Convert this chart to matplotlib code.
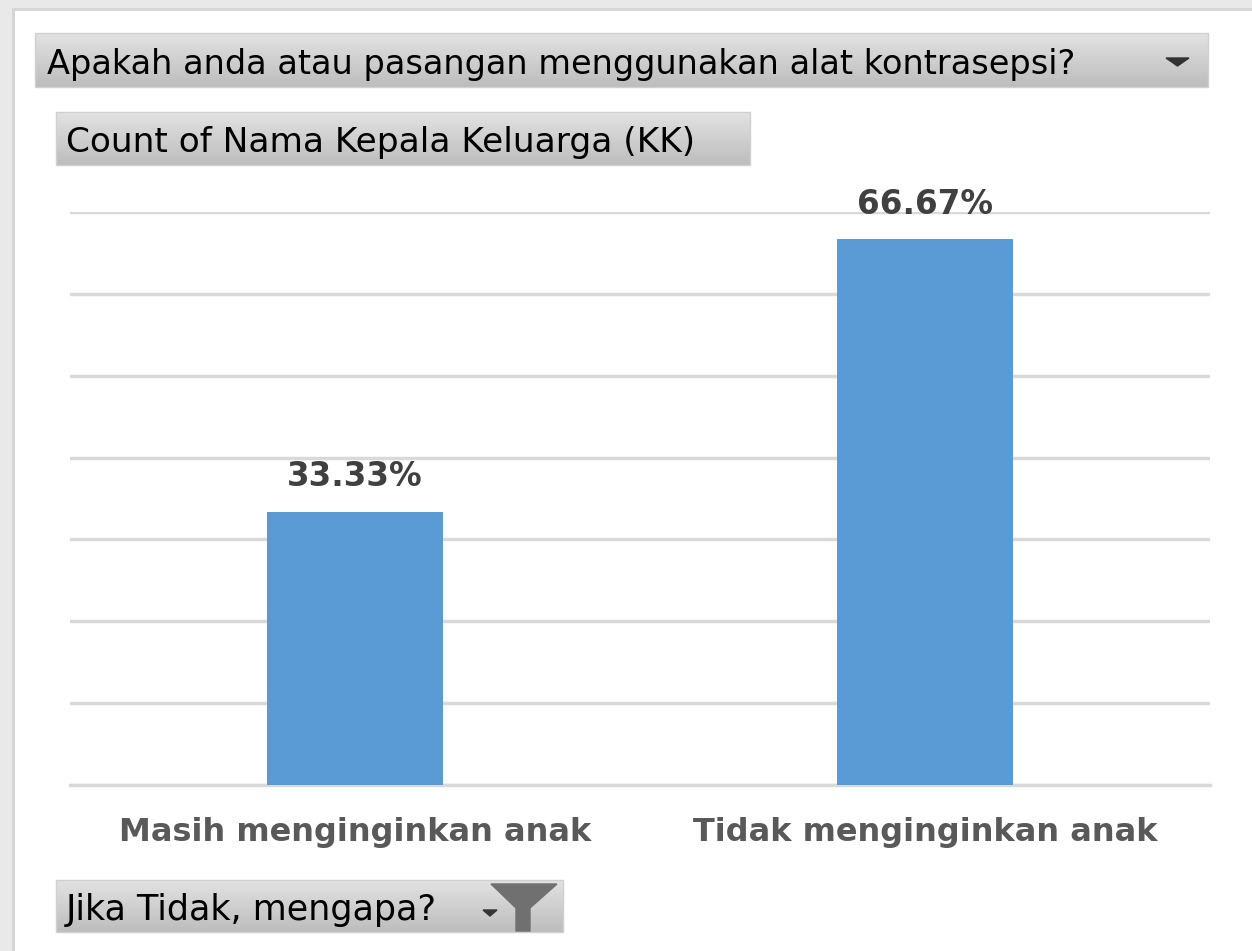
import numpy as np
import matplotlib
matplotlib.use("Agg")
import matplotlib.pyplot as plt
from matplotlib.patches import Polygon, Rectangle

# data
categories = ["Masih menginginkan anak", "Tidak menginginkan anak"]
percent = [33.33, 66.67]
filter_label = "Apakah anda atau pasangan menggunakan alat kontrasepsi?"
value_label = "Count of Nama Kepala Keluarga (KK)"
axis_label = "Jika Tidak, mengapa?"

W, H = 1252, 951
fig = plt.figure(figsize=(W / 100, H / 100), dpi=100)
fig.patch.set_facecolor("#e9e9e9")

# pixel-space overlay for the frame and the pivot field buttons
bg = fig.add_axes([0, 0, 1, 1], zorder=0)
bg.set_xlim(0, W)
bg.set_ylim(H, 0)
bg.axis("off")
bg.add_patch(Rectangle((12, 8), W - 12, H - 8, facecolor="#d6d6d6", edgecolor="none"))
bg.add_patch(Rectangle((15, 11), W - 15, H - 11, facecolor="white", edgecolor="none"))

grad = np.linspace(0, 1, 64).reshape(-1, 1)
cmap = matplotlib.colors.LinearSegmentedColormap.from_list("btn", ["#e2e2e2", "#bdbdbd"])


def button(x0, y0, x1, y1):
    bg.imshow(grad, cmap=cmap, extent=(x0, x1, y1, y0), aspect="auto", zorder=1)
    bg.add_patch(Rectangle((x0, y0), x1 - x0, y1 - y0, fill=False, edgecolor="#d0d0d0", lw=1, zorder=2))


def fit_text(x, y, s, width, size=20, **kw):
    t = bg.text(x, y, s, fontsize=size, va="baseline", ha="left", zorder=3, **kw)
    r = fig.canvas.get_renderer()
    w = t.get_window_extent(r).width
    t.set_fontsize(size * width / w)
    return t


button(35, 33, 1208, 87)
fit_text(47, 74, filter_label, 1030, color="black")
bg.add_patch(Polygon([[1166, 58], [1189, 58], [1177.5, 66]], closed=True, color="#333333", zorder=3))

button(56, 112, 750, 165)
fit_text(66, 152, value_label, 630, color="black")

button(56, 880, 563, 932)
fit_text(66, 920, axis_label, 372, color="black")
bg.add_patch(Polygon([[483, 910], [497, 910], [490, 916]], closed=True, color="#333333", zorder=3))
bg.add_patch(Polygon([[491, 884], [557, 884], [530, 908], [530, 931], [516, 931], [516, 908]],
                     closed=True, color="#707070", zorder=3))

# the chart itself
ax = fig.add_axes([70 / W, (H - 785) / H, 1140 / W, (785 - 212) / H], zorder=2)
ax.patch.set_alpha(0)
x = np.arange(len(categories))
bars = ax.bar(x, percent, width=0.31, color="#5b9bd5", zorder=3)
ax.set_xlim(-0.5, len(categories) - 0.5)
ax.set_ylim(0, 70)
ax.set_yticks(np.arange(0, 71, 10))
ax.yaxis.grid(True, color="#d9d9d9", lw=2.5)
ax.set_axisbelow(True)
ax.tick_params(axis="y", length=0, labelleft=False)
ax.tick_params(axis="x", length=0, pad=23)
ax.set_xticks(x)
ax.set_xticklabels(categories, fontsize=23, fontweight="bold", color="#595959")
for side in ["top", "left", "right"]:
    ax.spines[side].set_visible(False)
ax.spines["bottom"].set_color("#d9d9d9")
ax.spines["bottom"].set_linewidth(2.5)

for b, v in zip(bars, percent):
    ax.annotate(f"{v:.2f}%", (b.get_x() + b.get_width() / 2, v), xytext=(0, 18.5),
                textcoords="offset points", ha="center", va="baseline",
                fontsize=23.5, fontweight="bold", color="#404040", zorder=4)

fig.savefig("out.png", dpi=100, facecolor=fig.get_facecolor())
